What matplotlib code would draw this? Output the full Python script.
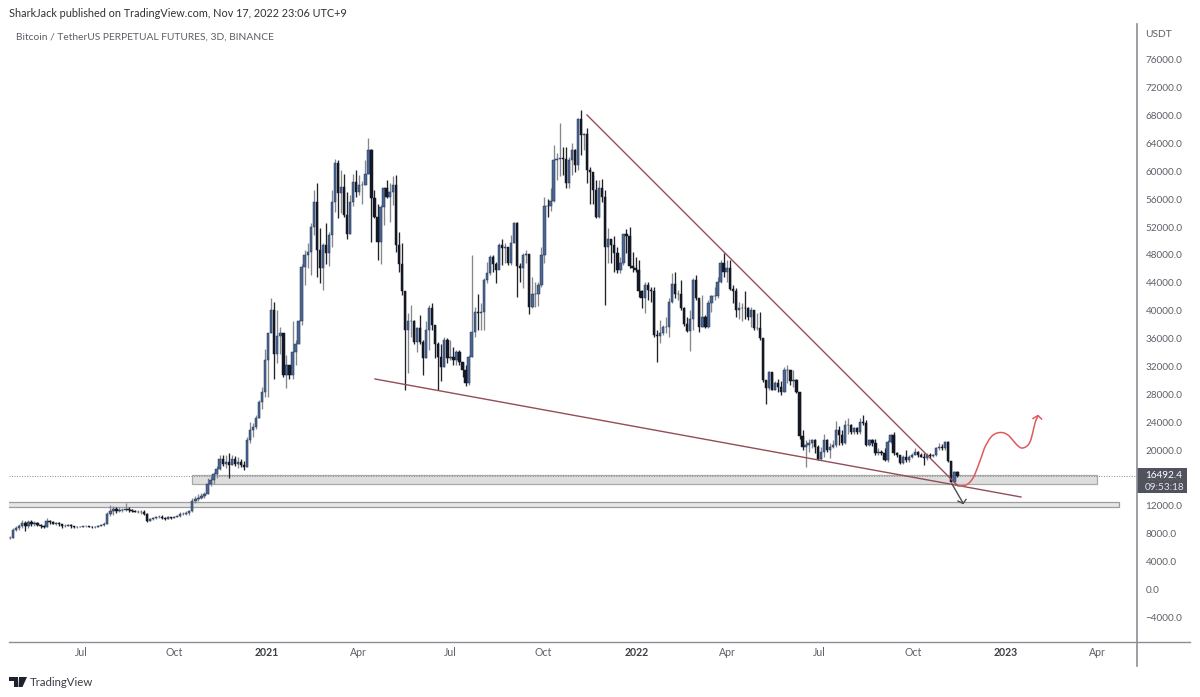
import numpy as np
import matplotlib
matplotlib.use("Agg")
import matplotlib.pyplot as plt
import matplotlib.dates as mdates
from matplotlib.patches import Rectangle, Polygon
from matplotlib.lines import Line2D
import datetime as dt

W, H = 1200, 697
first_bar = dt.date(2020, 4, 22)
bar_days = 3

closes = [7.6,8.7,8.9,9.2,9.7,9.2,9.8,9.5,9.7,9.4,9.3,9.1,10.0,9.8,9.6,9.7,9.5,9.2,9.3,9.4,
 9.3,9.1,9.1,9.15,9.2,9.2,9.15,9.1,9.1,9.3,9.4,9.6,11.0,11.4,11.7,11.4,11.5,11.6,11.7,11.5,
 11.4,11.3,11.3,11.3,11.0,10.0,10.2,10.4,10.5,10.6,10.4,10.3,10.5,10.4,10.5,10.7,11.0,11.0,11.1,11.4,
 12.8,13.1,13.3,13.6,13.9,15.3,15.8,16.7,17.5,18.8,18.2,18.5,18.0,18.9,18.1,18.4,18.0,17.7,21.6,23.0,
 23.4,24.7,27.1,28.5,33.0,36.9,40.2,34.0,36.5,36.9,30.9,32.3,30.9,34.2,35.4,38.6,46.4,48.1,48.6,52.2,
 55.8,48.8,46.2,49.6,48.4,51.0,55.8,61.3,57.0,57.9,53.9,51.2,55.8,58.6,57.2,58.2,58.2,59.8,63.2,56.3,
 53.6,50.0,55.0,57.7,56.5,57.2,58.2,49.6,46.9,42.9,37.4,38.6,38.6,35.7,37.6,35.7,33.3,37.4,40.5,38.1,
 35.4,33.5,32.1,36.0,33.4,33.5,33.0,34.2,32.8,31.6,29.7,33.5,37.1,40.0,39.8,40.0,44.5,45.5,47.9,46.9,
 46.0,49.6,49.1,49.3,47.0,49.8,52.7,46.5,46.2,48.1,48.3,40.7,42.6,42.6,43.8,48.1,55.2,55.1,55.9,61.7,
 61.9,62.1,61.9,58.4,61.8,63.2,61.0,67.6,65.4,65.5,60.4,60.0,57.5,53.6,57.7,56.5,49.3,50.5,49.6,48.4,
 46.0,47.0,51.1,50.8,46.5,46.2,46.0,43.0,41.9,43.8,43.1,42.9,36.7,36.5,36.9,37.8,37.8,41.4,44.0,42.6,
 42.6,40.5,38.2,37.3,39.0,44.6,41.9,37.8,39.3,37.8,41.2,42.2,42.2,44.3,47.0,45.7,46.2,43.2,43.0,40.2,
 40.5,40.6,40.5,39.3,40.2,37.6,37.7,36.2,30.2,29.0,31.4,28.8,29.7,29.2,28.5,31.6,31.6,30.1,30.2,28.5,
 22.1,20.6,20.9,21.1,21.6,20.6,18.8,19.9,21.6,20.2,20.6,20.9,23.0,22.3,21.1,23.7,23.7,22.8,23.3,22.8,
 24.2,24.0,20.9,21.6,21.1,19.7,19.9,19.7,18.7,21.3,22.3,19.7,19.4,18.3,19.2,18.7,19.2,19.4,19.9,19.4,
 19.2,19.0,19.4,19.3,19.4,20.4,20.6,20.4,21.3,18.6,15.6,17.0,16.49]

highs = [7.8,9.0,9.3,9.5,10.1,10.0,10.1,10.1,9.9,9.8,9.5,9.4,10.4,10.1,9.9,9.8,9.8,9.5,9.5,9.6,
 9.5,9.3,9.2,9.25,9.3,9.3,9.3,9.2,9.2,9.4,9.5,9.8,11.3,12.2,12.1,12.0,12.0,11.9,12.5,12.0,
 11.7,11.5,11.5,11.6,11.5,11.1,10.4,10.6,10.7,10.9,10.8,10.6,10.7,10.6,10.7,10.9,11.2,11.3,11.4,11.6,
 13.3,13.5,13.8,14.0,14.1,16.2,16.4,17.0,17.9,19.4,19.4,19.5,19.7,19.4,19.3,19.2,18.9,18.6,22.0,24.2,
 24.0,25.2,27.4,29.2,34.7,37.0,42.0,41.4,40.2,37.8,36.7,33.8,32.3,38.6,35.9,38.8,46.9,48.8,49.8,52.7,
 57.5,58.4,52.0,49.8,52.7,51.5,57.5,61.9,61.8,60.3,59.8,57.2,56.7,59.8,60.3,59.6,58.7,61.8,64.9,63.4,
 57.5,55.5,55.3,57.9,58.9,58.4,59.5,59.6,51.5,49.8,42.9,39.8,41.0,38.8,37.8,39.5,35.9,38.6,41.0,41.2,
 38.1,35.7,35.4,36.4,36.2,35.9,35.0,34.5,34.5,32.8,32.3,33.8,48.1,40.7,42.6,41.2,44.8,47.2,48.1,48.1,
 47.2,49.8,50.5,49.8,49.3,51.0,52.8,52.8,47.0,48.4,48.8,48.3,45.0,44.2,44.2,49.3,56.4,56.1,57.8,63.9,
 62.7,67.1,63.7,63.7,62.2,64.2,63.4,67.8,69.0,65.6,66.3,60.8,59.6,58.9,58.9,59.1,57.5,52.0,50.5,50.8,
 49.3,47.9,51.2,51.8,52.2,48.6,47.9,47.4,43.1,44.2,44.3,43.6,43.6,37.4,38.8,38.1,39.3,41.9,45.6,45.7,
 43.1,44.6,40.7,39.3,40.2,44.8,45.3,41.7,42.4,39.5,41.7,42.4,43.6,45.0,47.4,48.4,47.4,47.4,43.8,43.4,
 41.4,41.2,42.9,40.7,40.7,40.2,39.8,40.0,36.2,30.2,31.5,31.4,30.0,30.4,30.0,32.0,32.3,31.7,31.7,30.4,
 28.5,23.0,21.6,21.8,21.8,21.7,20.9,20.6,22.5,21.8,21.1,21.6,24.3,23.6,23.0,24.5,24.7,23.9,23.5,23.5,
 24.7,25.2,24.5,21.8,21.8,21.8,20.4,20.2,20.4,21.6,22.5,22.8,19.9,19.5,19.4,20.2,19.4,19.7,20.4,20.0,
 19.7,19.7,19.7,19.7,19.6,20.6,21.1,21.0,21.4,21.4,18.6,17.2,17.1]

lows = [7.4,7.6,8.6,8.7,9.0,8.5,9.0,9.2,9.3,9.3,8.9,8.9,9.1,9.6,9.5,9.4,9.2,8.9,9.1,9.2,
 9.0,8.9,9.0,9.05,9.1,9.1,9.1,9.0,9.0,9.05,9.2,9.3,9.5,10.7,10.9,11.1,11.2,11.3,11.4,11.3,
 11.2,11.2,11.1,11.0,10.9,9.8,9.9,10.1,10.3,10.4,10.2,10.1,10.2,10.3,10.4,10.5,10.6,10.8,10.9,10.9,
 11.3,12.6,12.9,13.1,13.3,13.8,15.0,15.3,16.2,17.3,17.8,17.6,16.2,18.0,17.8,17.6,17.7,17.3,17.7,21.2,
 22.0,23.2,24.7,26.1,27.8,27.8,36.9,30.4,32.6,34.0,30.7,29.0,30.4,30.4,32.3,35.3,38.1,43.8,46.2,45.3,
 51.0,45.0,44.1,43.1,46.9,46.5,49.3,54.3,53.4,54.1,53.6,50.5,51.2,55.1,56.5,56.7,55.5,58.2,59.8,50.0,
 53.4,47.4,46.9,52.4,56.3,52.9,55.3,48.6,45.7,42.4,28.7,31.2,36.4,35.4,34.2,35.4,30.9,33.3,34.5,37.4,
 33.3,28.8,30.0,32.1,32.6,33.1,32.3,32.3,32.3,30.7,29.3,29.5,33.5,36.4,37.4,37.4,37.4,44.1,45.3,45.7,
 44.1,46.7,46.7,47.0,46.7,46.7,49.8,42.1,44.3,43.4,47.0,39.7,40.5,40.7,40.8,43.6,47.0,53.6,54.4,55.8,
 58.9,59.4,59.6,57.7,57.7,59.6,60.1,60.3,62.5,63.2,58.4,55.5,55.5,53.5,53.4,55.8,41.0,47.0,47.0,45.7,
 45.5,45.5,46.7,48.4,46.2,45.7,45.7,42.1,40.5,39.8,41.7,41.4,36.4,32.8,35.5,36.7,36.9,36.3,41.2,41.9,
 41.7,40.2,37.9,37.1,34.4,37.4,41.7,37.1,37.8,37.6,37.6,40.0,41.7,41.9,44.1,45.0,44.3,43.1,41.2,39.3,
 39.0,38.6,39.0,38.8,37.8,37.4,37.4,35.9,29.9,26.8,28.8,28.7,28.8,28.5,28.0,28.5,29.7,29.5,29.2,28.3,
 21.8,20.2,17.7,19.9,20.4,19.7,18.7,18.7,19.2,19.9,19.0,20.5,20.6,20.9,20.9,21.0,22.5,22.5,22.5,22.5,
 22.5,23.7,20.7,20.7,20.7,19.4,19.4,19.4,18.6,18.5,21.1,19.4,19.2,18.2,18.2,18.5,18.5,19.0,19.4,19.2,
 19.1,18.0,18.7,19.0,19.2,19.3,20.2,20.2,20.2,18.5,15.5,15.9,16.3]

price_ticks = list(range(76000, -8000, -4000))
last_price = 16492.4
countdown = "09:53:18"
x_tick_dates = [dt.date(2020,7,1),dt.date(2020,10,1),dt.date(2021,1,1),dt.date(2021,4,1),dt.date(2021,7,1),
                dt.date(2021,10,1),dt.date(2022,1,1),dt.date(2022,4,1),dt.date(2022,7,1),dt.date(2022,10,1),
                dt.date(2023,1,1),dt.date(2023,4,1)]
x_tick_labels = ["Jul","Oct","2021","Apr","Jul","Oct","2022","Apr","Jul","Oct","2023","Apr"]

plt.rcParams['font.family'] = ['Lato', 'DejaVu Sans']
fig = plt.figure(figsize=(W/100, H/100), dpi=100, facecolor='white')

L, R, T, B = 9, 1137, 24, 641
ax = fig.add_axes([L/W, 1-B/H, (R-L)/W, (B-T)/H])
ax.patch.set_alpha(0)

# scales
def y2p(y): return (590.5 - y) / 0.00697
def x2d(x): return mdates.date2num(dt.date(2020,7,1)) + (x - 81) / 1.012
ax.set_xlim(x2d(L), x2d(R))
ax.set_ylim(y2p(B), y2p(T))
for s in ax.spines.values():
    s.set_visible(False)
ax.tick_params(left=False, bottom=False, right=False, labelleft=False, labelbottom=False)

c = np.array(closes) * 1000
h = np.array(highs) * 1000
l = np.array(lows) * 1000
o = np.r_[c[0] - 100, c[:-1]]
d0 = mdates.date2num(first_bar)
t = d0 + bar_days * np.arange(len(c))
up = c >= o
UPC, DNC, UPW, DNW = '#4a6691', '#131824', '#85888e', '#1f2229'

# zones
ax.add_patch(Rectangle((x2d(192), y2p(484.3)), x2d(1097)-x2d(192), y2p(475.3)-y2p(484.3),
                       fc='#dedede', ec='#a9a9a9', lw=0.9, zorder=1))
ax.add_patch(Rectangle((x2d(2), y2p(506.5)), x2d(1119)-x2d(2), y2p(501.5)-y2p(506.5),
                       fc='#e6e6e6', ec='#9c9c9c', lw=0.9, zorder=1))
# last price line
ax.axhline(last_price, color='#8a8a8a', lw=0.7, ls=(0, (1, 1.6)), zorder=1.5)

# candles
ax.vlines(t[up], l[up], h[up], color=UPW, lw=0.95, zorder=2)
ax.vlines(t[~up], l[~up], h[~up], color=DNW, lw=0.95, zorder=2)
ax.bar(t[up], (c-o)[up], bottom=o[up], width=2.3, color=UPC, edgecolor='#23365a', lw=0.35, zorder=3)
ax.bar(t[~up], (o-c)[~up], bottom=c[~up], width=2.3, color=DNC, edgecolor=DNC, lw=0.35, zorder=3)

# wedge lines
WEDGE = '#934e56'
ax.plot([x2d(587), x2d(957)], [y2p(115), y2p(485)], color=WEDGE, lw=1.0, zorder=4)
ax.plot([x2d(375), x2d(1021)], [y2p(379), y2p(497)], color=WEDGE, lw=1.0, zorder=4)

# projected paths
def catmull(pts, n=14):
    pts = np.array(pts, float)
    P = np.vstack([pts[0], pts, pts[-1]])
    out = []
    for i in range(1, len(P)-2):
        for s in np.linspace(0, 1, n, endpoint=False):
            out.append(0.5*((2*P[i]) + (-P[i-1]+P[i+1])*s + (2*P[i-1]-5*P[i]+4*P[i+1]-P[i+2])*s**2
                            + (-P[i-1]+3*P[i]-3*P[i+1]+P[i+2])*s**3))
    out.append(pts[-1])
    return np.array(out)

red_pts = [(958,486),(966,485),(973,478),(980,461),(985,447),(992,436),(1000,432.5),(1008,435),
           (1017,445),(1023,448),(1030,442),(1035,423),(1038,416)]
cv = catmull(red_pts)
RED = '#dd5a5f'
ax.plot(x2d(cv[:,0]), y2p(cv[:,1]), color=RED, lw=1.1, zorder=5)
ax.plot(x2d(np.array([1033,1038,1041.5])), y2p(np.array([418.5,415.5,419])), color=RED, lw=1.1, zorder=5)

GR = '#4a4d54'
ax.plot([x2d(952), x2d(963)], [y2p(484), y2p(503)], color=GR, lw=1.0, zorder=5)
ax.plot(x2d(np.array([958,963,966])), y2p(np.array([501,503.5,499.5])), color=GR, lw=1.0, zorder=5)

# axis lines and footer frame
AX = '#8b8e94'
fig.add_artist(Line2D([L/W, 1190/W], [1-641.5/H]*2, color=AX, lw=1.0))
fig.add_artist(Line2D([R/W, R/W], [1-24/H, 1-666/H], color=AX, lw=1.2))

# tick labels
TXT = '#5d6067'
for p in price_ticks:
    y = 590.5 - p*0.00697
    s = f"{p:.1f}".replace('-', '\u2212')
    fig.text(1145.5/W if p >= 0 else 1145/W, 1-y/H, s, fontsize=7.2, color=TXT, va='center', ha='left')
fig.text(1145/W, 1-34.5/H, "USDT", fontsize=7.4, color=TXT, va='center', ha='left')

for d, lab in zip(x_tick_dates, x_tick_labels):
    x = 81 + (mdates.date2num(d) - mdates.date2num(dt.date(2020,7,1)))*1.012
    bold = lab.startswith('20')
    fig.text(x/W, 1-653/H, lab, fontsize=7.6, color='#3c3f46' if bold else TXT,
             fontweight='bold' if bold else 'normal', va='center', ha='center')

# last price tag
fig.patches.append(Rectangle((1137/W, 1-493/H), 50/W, 25/H, transform=fig.transFigure,
                             fc='#50535e', ec='none', figure=fig))
fig.text(1145.5/W, 1-475/H, f"{last_price:.1f}", fontsize=7.2, color='white', va='center', ha='left')
fig.text(1145/W, 1-487/H, countdown, fontsize=7.2, color='#e4e4e8', va='center', ha='left')

# header
fig.text(9/W, 1-13.5/H, "SharkJack published on TradingView.com, Nov 17, 2022 23:06 UTC+9",
         fontsize=7.85, color='#2f3136', va='center', ha='left')
fig.text(16/W, 1-37.5/H, "Bitcoin / TetherUS PERPETUAL FUTURES, 3D, BINANCE",
         fontsize=7.35, color='#5d6067', va='center', ha='left')

# footer logo
def px_poly(pts, color='#1e222d'):
    fig.patches.append(Polygon([(x/W, 1-y/H) for x, y in pts], closed=True, transform=fig.transFigure,
                               fc=color, ec='none', figure=fig))
px_poly([(9,677),(18,677),(18,687),(14,687),(14,681),(9,681)])
px_poly([(19,677),(27,677),(22.5,687),(18.5,687)])
fig.text(30/W, 1-682/H, "TradingView", fontsize=8.2, color='#3a3d45', va='center', ha='left')

fig.savefig("out.png", dpi=100, facecolor='white')
